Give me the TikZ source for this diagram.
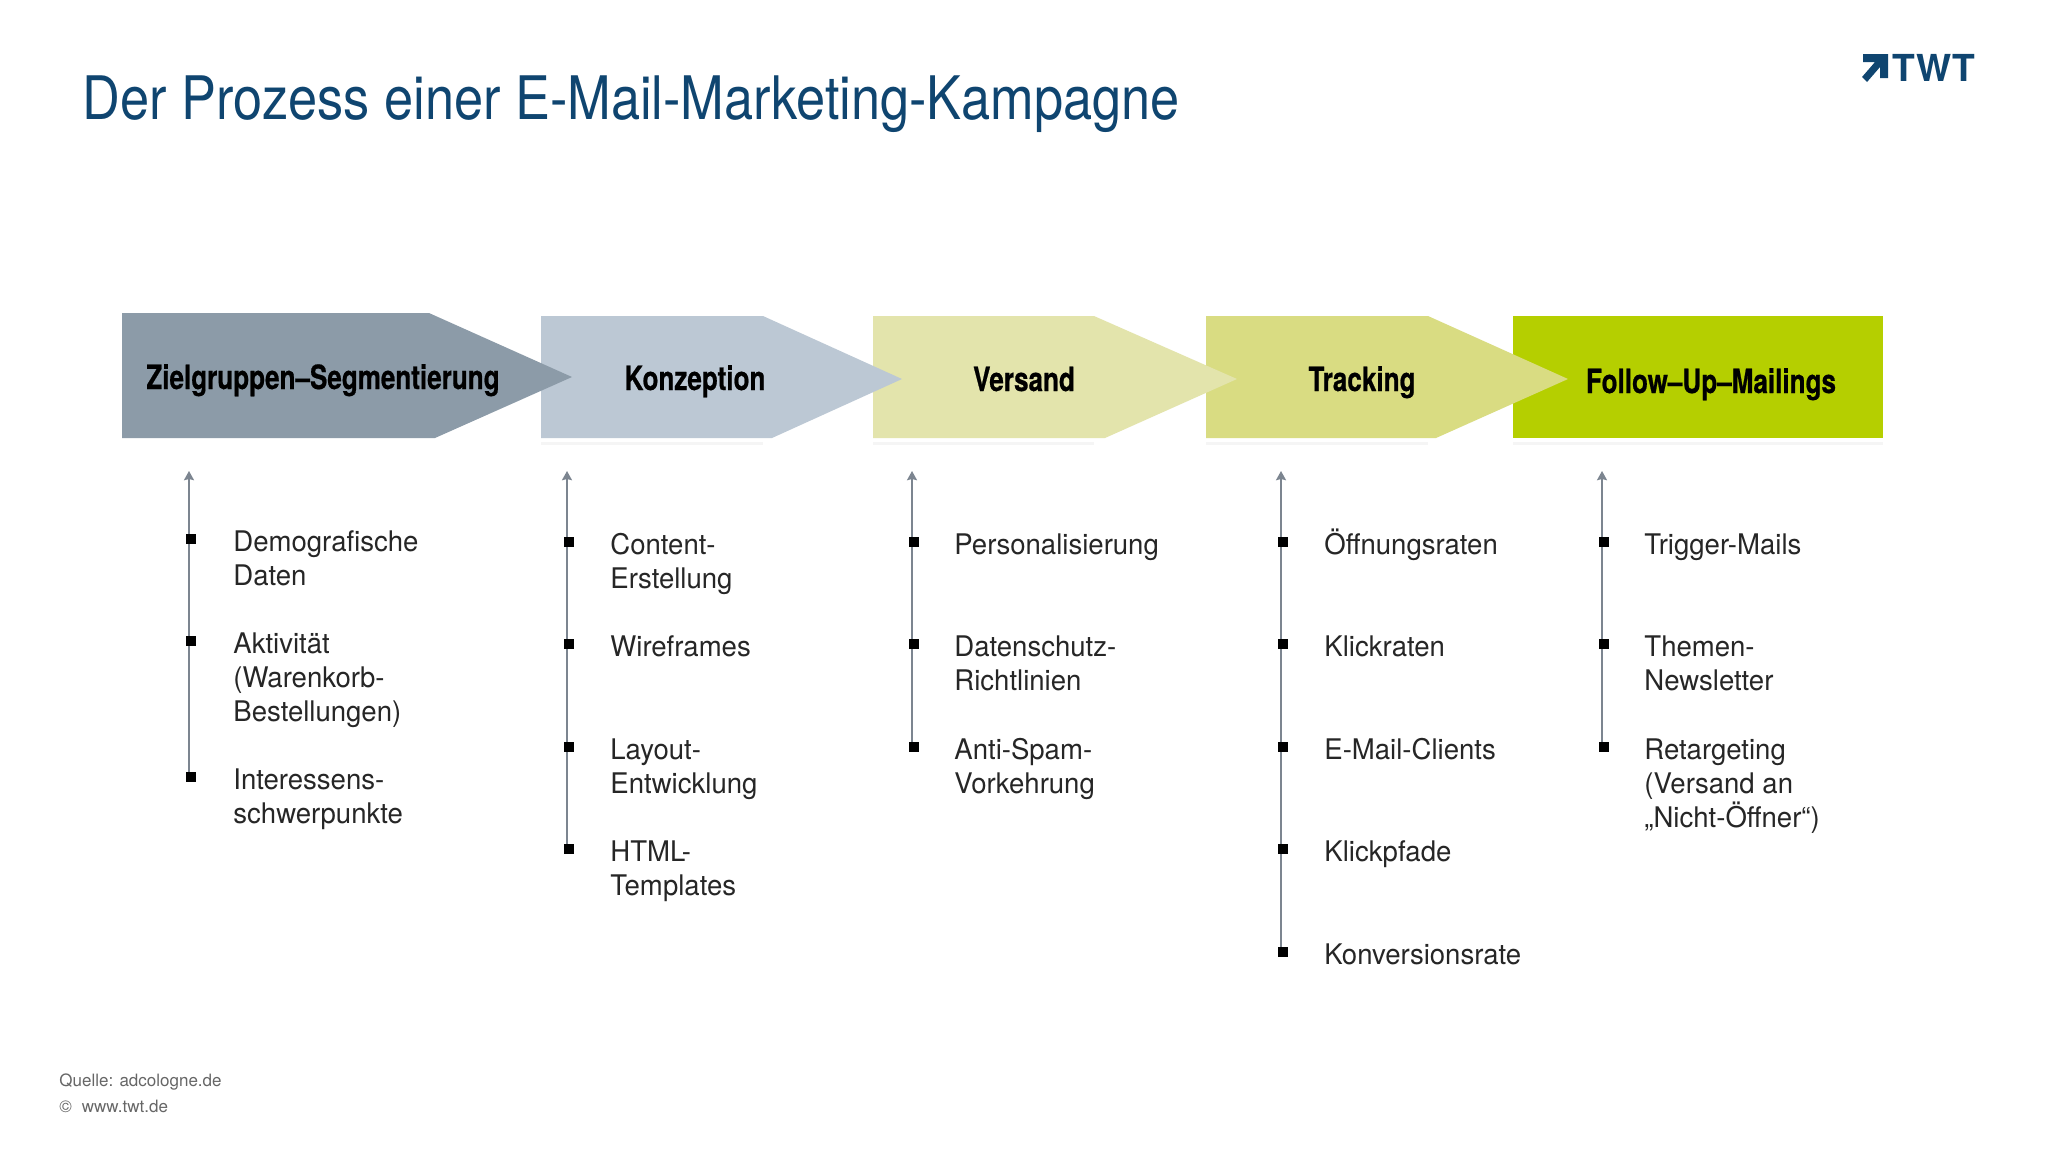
\documentclass[tikz,border=0pt]{standalone}
\usepackage{fontspec}
\setmainfont{TeX Gyre Heros}
\newfontfamily\headfont[FakeStretch=0.78,FakeBold=0.6]{TeX Gyre Heros}
\newfontfamily\itemfont[FakeStretch=0.97]{TeX Gyre Heros}
\newfontfamily\titlefont[FakeStretch=0.872]{TeX Gyre Heros}
\newcommand{\itop}{\rule{0pt}{16pt}}
\usetikzlibrary{arrows.meta, positioning}
\definecolor{cslate}{HTML}{8C9BA8}
\definecolor{cmist}{HTML}{BCC8D4}
\definecolor{cpale}{HTML}{E3E4AC}
\definecolor{cmoss}{HTML}{D9DC82}
\definecolor{clime}{HTML}{B5CF00}
\definecolor{cnavy}{HTML}{0F4570}
\definecolor{cstem}{HTML}{7C8590}
\definecolor{cink}{HTML}{262626}
\tikzset{
  every picture/.style={font=\rmfamily, x=0.5pt, y=-0.5pt},
  head/.style={font=\headfont\bfseries\fontsize{16.7}{20}\selectfont, text=black, anchor=base, inner sep=0pt},
  item/.style={font=\itemfont\fontsize{14.2}{17}\selectfont, text=cink, anchor=north west, align=left, inner sep=0pt},
  bul/.style={fill=black, minimum size=5pt, inner sep=0pt},
  stem/.style={-{Stealth[length=4.6pt, width=5pt, inset=0.6pt]}, draw=cstem, line width=0.85pt},
  gleam/.style={fill=black!4},
  foot/.style={font=\fontsize{8.5}{10}\selectfont, text=black!60, anchor=base west, inner sep=0pt},
}
\begin{document}
\begin{tikzpicture}
  \useasboundingbox (0,0) rectangle (2048,1152);
  \fill[white] (0,0) rectangle (2048,1152);
  \node[font=\titlefont\fontsize{30}{36}\selectfont, text=cnavy, anchor=base west, inner sep=0pt] (title) at (82,119) {Der Prozess einer E-Mail-Marketing-Kampagne};
  % logo
  \fill[cnavy] (1863,54) -- (1888,54) -- (1888,78) -- (1880,78) -- (1880,67) -- (1867,82) -- (1862,77) -- (1875,62) -- (1863,62) -- cycle;
  \node[font=\bfseries\fontsize{18.6}{22}\selectfont, text=cnavy, anchor=base west, inner sep=0pt] (logo) at (1892,81) {TWT};
  % band, right to left so each tip lies on the next shape
  \fill[gleam] (541,442) rectangle (763,445);
  \fill[gleam] (873,442) rectangle (1094,445);
  \fill[gleam] (1206,442) rectangle (1428,445);
  \fill[gleam] (1513,442) rectangle (1883,445);
  \fill[clime] (1513,316) rectangle (1883,438);
  \fill[cmoss] (1206,316) -- (1428,316) -- (1568,379) -- (1436,438) -- (1206,438) -- cycle;
  \fill[cpale] (873,316) -- (1094,316) -- (1237,379) -- (1105,438) -- (873,438) -- cycle;
  \fill[cmist] (541,316) -- (763,316) -- (902,379) -- (772,438) -- (541,438) -- cycle;
  \fill[cslate] (122,313) -- (429,313) -- (572,377) -- (435,438) -- (122,438) -- cycle;
  \node[head] (seg) at (323,389) {Zielgruppen–Segmentierung};
  \node[head] (kon) at (695,390) {Konzeption};
  \node[head] (ver) at (1024,391) {Versand};
  \node[head] (tra) at (1362,391) {Tracking};
  \node[head] (fol) at (1711,393) {Follow–Up–Mailings};
  % column 1
  \coordinate (top1) at (189,471);
  \coordinate (end1) at (189,777);
  \draw[stem] (end1) -- (top1);
  \node[bul] (b11) at (191,539) {};
  \node[bul] (b12) at (191,641) {};
  \node[bul] (b13) at (191,777) {};
  \node[item] (t11) at (233,519) {\itop Demografische\\Daten};
  \node[item] (t12) at (233,621) {\itop Aktivität\\(Warenkorb-\\Bestellungen)};
  \node[item] (t13) at (233,757) {\itop Interessens-\\schwerpunkte};
  % column 2
  \coordinate (top2) at (567,471);
  \coordinate (end2) at (567,849);
  \draw[stem] (end2) -- (top2);
  \node[bul] (b21) at (569,542) {};
  \node[bul] (b22) at (569,644) {};
  \node[bul] (b23) at (569,747) {};
  \node[bul] (b24) at (569,849) {};
  \node[item] (t21) at (610,522) {\itop Content-\\Erstellung};
  \node[item] (t22) at (610,624) {\itop Wireframes};
  \node[item] (t23) at (610,727) {\itop Layout-\\Entwicklung};
  \node[item] (t24) at (610,829) {\itop HTML-\\Templates};
  % column 3
  \coordinate (top3) at (912,471);
  \coordinate (end3) at (912,747);
  \draw[stem] (end3) -- (top3);
  \node[bul] (b31) at (914,542) {};
  \node[bul] (b32) at (914,644) {};
  \node[bul] (b33) at (914,747) {};
  \node[item] (t31) at (954,522) {\itop Personalisierung};
  \node[item] (t32) at (954,624) {\itop Datenschutz-\\Richtlinien};
  \node[item] (t33) at (954,727) {\itop Anti-Spam-\\Vorkehrung};
  % column 4
  \coordinate (top4) at (1281,471);
  \coordinate (end4) at (1281,952);
  \draw[stem] (end4) -- (top4);
  \node[bul] (b41) at (1283,542) {};
  \node[bul] (b42) at (1283,644) {};
  \node[bul] (b43) at (1283,747) {};
  \node[bul] (b44) at (1283,849) {};
  \node[bul] (b45) at (1283,952) {};
  \node[item] (t41) at (1324,522) {\itop Öffnungsraten};
  \node[item] (t42) at (1324,624) {\itop Klickraten};
  \node[item] (t43) at (1324,727) {\itop E-Mail-Clients};
  \node[item] (t44) at (1324,829) {\itop Klickpfade};
  \node[item] (t45) at (1324,932) {\itop Konversionsrate};
  % column 5
  \coordinate (top5) at (1602,471);
  \coordinate (end5) at (1602,747);
  \draw[stem] (end5) -- (top5);
  \node[bul] (b51) at (1604,542) {};
  \node[bul] (b52) at (1604,644) {};
  \node[bul] (b53) at (1604,747) {};
  \node[item] (t51) at (1644,522) {\itop Trigger-Mails};
  \node[item] (t52) at (1644,624) {\itop Themen-\\Newsletter};
  \node[item] (t53) at (1644,727) {\itop Retargeting\\(Versand an\\„Nicht-Öffner“)};
  % footer
  \node[foot] (src) at (59,1086) {Quelle: adcologne.de};
  \node[foot] (web) at (59,1112) {©\hspace{5pt}www.twt.de};
\end{tikzpicture}
\end{document}
